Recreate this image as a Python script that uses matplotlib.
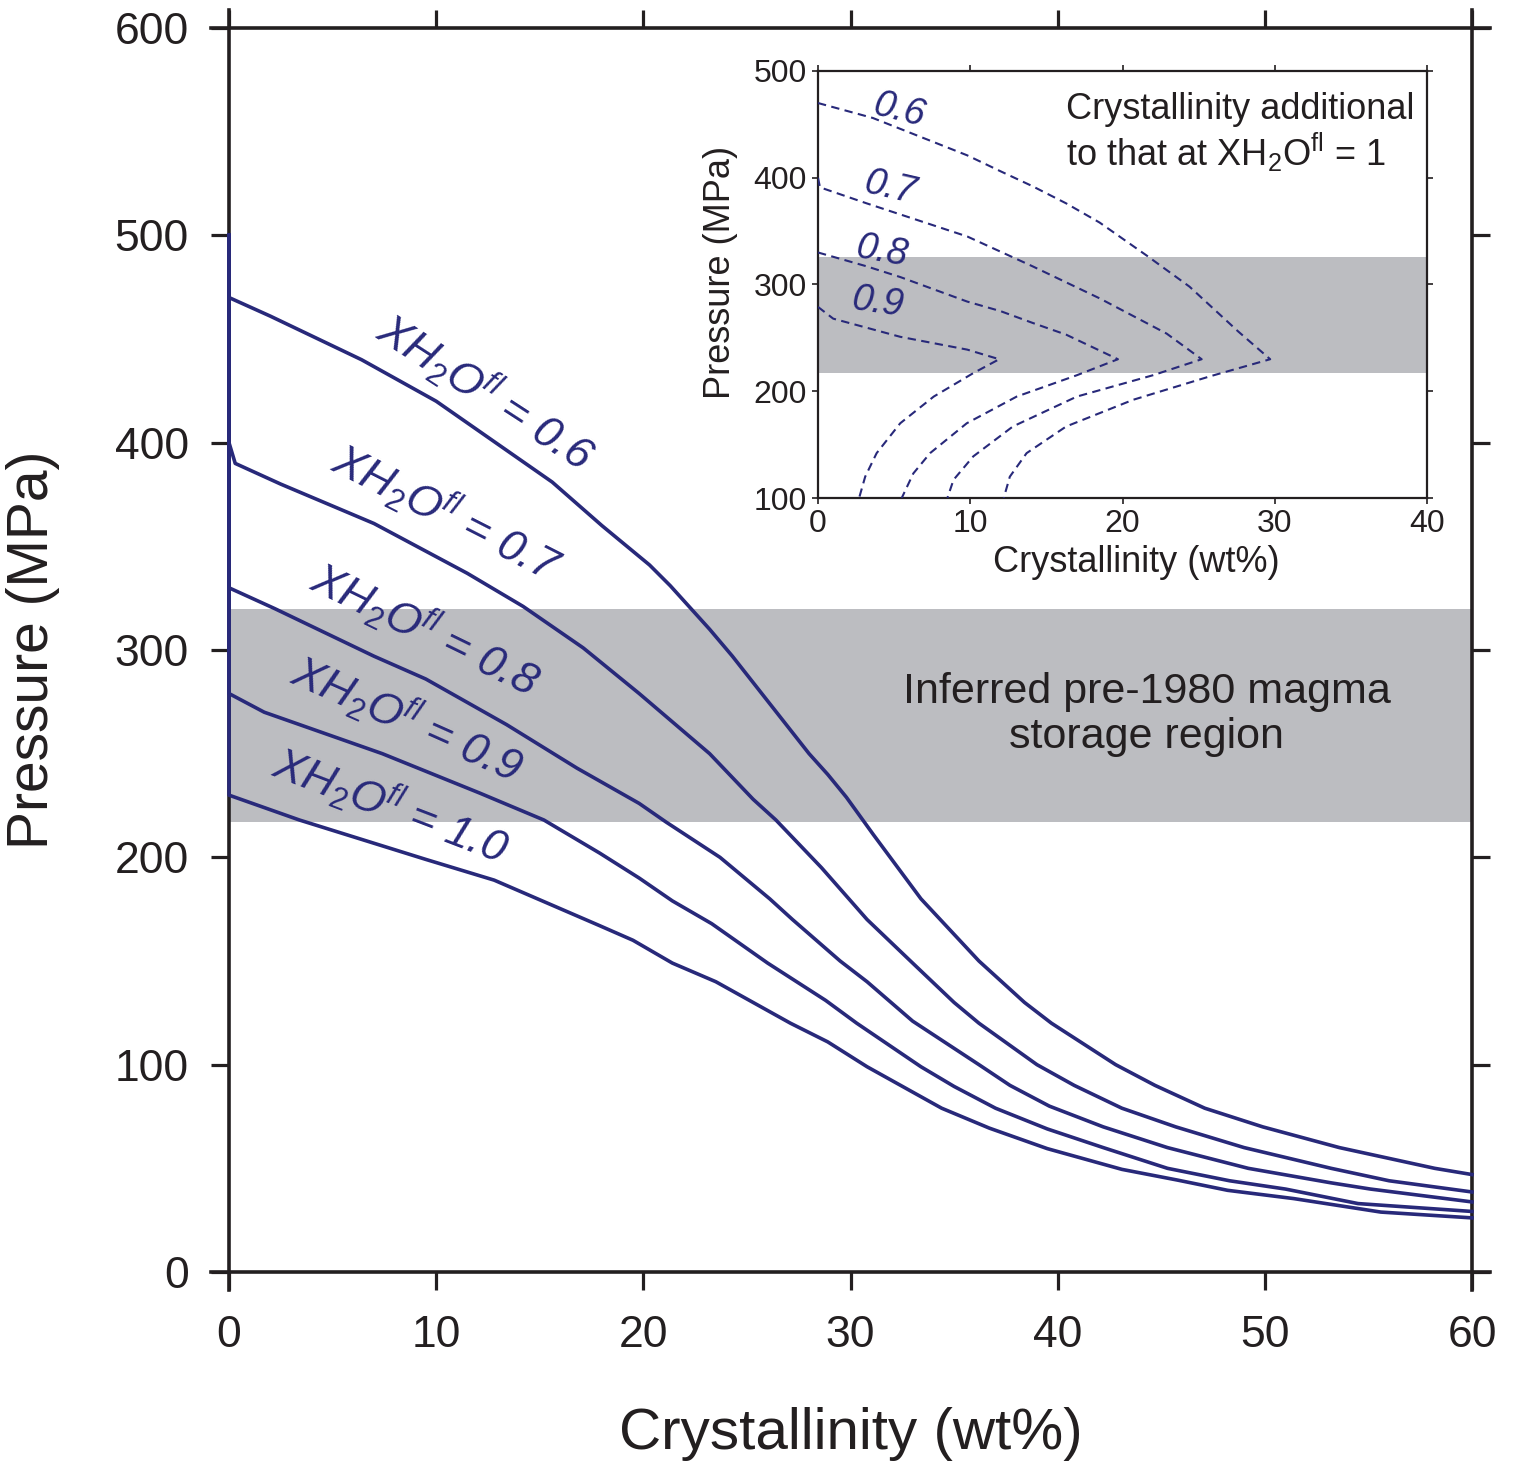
import matplotlib.pyplot as plt
import numpy as np

plt.rcParams['font.family'] = ['Liberation Sans', 'DejaVu Sans']
plt.rcParams['mathtext.fontset'] = 'custom'
plt.rcParams['mathtext.rm'] = 'Liberation Sans'
plt.rcParams['mathtext.it'] = 'Liberation Sans:italic'
plt.rcParams['mathtext.bf'] = 'Liberation Sans:bold'

navy = '#28297a'
ink = '#231f20'
band_grey = '#bcbdc1'

# main panel: pressure (MPa) vs crystallinity (wt%) for each fluid XH2O
levels = ['0.6', '0.7', '0.8', '0.9', '1.0']

cryst_06 = [0, 0, 2.0, 6.4, 10.0, 15.6, 18.0, 20.3, 21.3, 23.2, 24.3, 28.0, 28.9, 29.8, 31.1,
            33.4, 36.2, 38.4, 39.7, 42.8, 44.7, 47.1, 49.9, 53.6, 58.2, 60]
press_06 = [500, 470, 461, 440, 420, 381, 360, 341, 331, 310, 297, 250, 240, 229, 211,
            180, 150, 130, 120, 100, 90, 79, 70, 60, 50, 47]

cryst_07 = [0, 0, 0.3, 2.5, 7.0, 11.5, 14.2, 17.1, 19.8, 23.2, 25.3, 26.4, 28.6, 30.8, 33.0,
            35.0, 36.2, 39.0, 40.8, 43.1, 45.7, 49.0, 53.2, 56.0, 60]
press_07 = [500, 400, 390, 380, 361, 337, 321, 301, 279, 250, 228, 218, 195, 170, 149,
            130, 120, 100, 90, 79, 70, 60, 50, 44, 38.6]

cryst_08 = [0, 0, 2.2, 7.0, 9.5, 13.4, 16.8, 19.8, 21.1, 23.7, 26.1, 27.2, 29.5, 30.8, 33.0,
            36.2, 37.7, 39.6, 42.2, 45.3, 49.2, 53.2, 55.1, 60]
press_08 = [500, 330, 320, 297, 286, 264, 243, 226, 217, 200, 180, 170, 150, 140, 121,
            100, 90, 80, 70, 60, 50, 43, 40, 33.8]

cryst_09 = [0, 0, 1.7, 7.4, 12.1, 15.2, 17.9, 19.8, 21.4, 23.3, 26.0, 28.8, 30.3, 33.4, 35.0,
            37.0, 39.5, 42.2, 45.3, 48.3, 51.0, 54.5, 60]
press_09 = [500, 279, 270, 250, 231, 218, 202, 190, 179, 168, 149, 131, 120, 99, 89.5,
            79, 69, 60, 50, 44, 40, 33, 29.2]

cryst_10 = [0, 0, 3.4, 9.5, 12.8, 17.9, 19.5, 21.4, 23.5, 27.1, 28.9, 30.8, 34.4, 36.7, 39.5,
            43.1, 45.8, 48.2, 51.4, 55.6, 60]
press_10 = [500, 230, 218, 199, 189, 167, 160, 149, 140, 120, 111, 99, 79, 69.4, 59.5,
            49.5, 44.3, 39.4, 35.4, 28.9, 26.1]

storage_band = (217, 320)

# inset: crystallinity in excess of the XH2O = 1 curve
inset_levels = ['0.6', '0.7', '0.8', '0.9']

extra_06 = [0, 3.6, 9.8, 12.0, 14.1, 16.3, 18.5, 21.6, 24.4, 27.6, 29.7,
            25.75, 20.7, 16.3, 13.7, 12.6, 12.2]
ipress_06 = [470, 456, 421, 406, 392, 376, 358, 327, 298, 256, 230,
             214, 192, 167, 142, 120, 100]

extra_07 = [0, 0.13, 3.2, 9.8, 14.1, 18.5, 22.9, 25.2,
            22.0, 17.0, 12.8, 10.2, 8.9, 8.5]
ipress_07 = [400, 391, 376, 345, 317, 287, 254, 230,
             215, 195, 167, 139, 117, 100]

extra_08 = [0, 3.2, 5.4, 9.8, 12.0, 14.1, 16.3, 19.7,
            17.0, 13.05, 9.77, 7.36, 6.26, 5.5]
ipress_08 = [330, 317, 307, 284, 275, 264, 253, 230,
             215, 195, 170, 142, 123, 100]

extra_09 = [0, 1.0, 5.4, 9.8, 11.9,
            10.2, 7.6, 5.4, 3.85, 3.1, 2.7]
ipress_09 = [279, 268, 251, 239, 230,
             217, 195, 170, 142, 120, 100]

inset_band = (217, 326)

W, H = 1515, 1464
fig = plt.figure(figsize=(W / 100, H / 100), dpi=100)

# ---------------- main axes ----------------
ax = fig.add_axes([229 / W, 1 - 1272 / H, (1472 - 229) / W, (1272 - 28) / H])
ax.set_xlim(0, 60)
ax.set_ylim(0, 600)
ax.axhspan(*storage_band, color=band_grey, lw=0, zorder=0)

curves = [(cryst_06, press_06), (cryst_07, press_07), (cryst_08, press_08),
          (cryst_09, press_09), (cryst_10, press_10)]
for c, p in curves:
    ax.plot(c, p, color=navy, lw=2.6, clip_on=False, zorder=4)

label_spots = [(12.4, 424.5, -33), (10.5, 366.5, -27), (9.5, 310, -26),
               (8.6, 267, -24), (7.8, 225, -21)]
for lev, (lx, ly, rot) in zip(levels, label_spots):
    ax.text(lx, ly, r'XH$_\mathit{2}$O$^\mathit{fl}$ = ' + lev, rotation=rot,
            rotation_mode='anchor', ha='center', va='center', fontsize=32,
            style='italic', color=navy, zorder=5)

ax.text(44.3, 269, 'Inferred pre-1980 magma\nstorage region', ha='center',
        va='center', fontsize=31, color=ink, linespacing=1.15)

ax.set_xticks(np.arange(0, 61, 10))
ax.set_yticks(np.arange(0, 601, 100))
ax.tick_params(direction='out', length=13, width=2.3, colors=ink, labelsize=32,
               top=True, right=True)
ax.tick_params(axis='x', pad=18)
ax.tick_params(axis='y', pad=16)
for side, sp in ax.spines.items():
    sp.set_linewidth(2.6)
    sp.set_color(ink)
ax.spines['bottom'].set_bounds(-0.87, 60.87)
ax.spines['top'].set_bounds(-0.87, 60.87)
ax.spines['left'].set_bounds(-8.7, 608.7)
ax.spines['right'].set_bounds(-8.7, 608.7)

fig.text(851 / W, 1 - 1434 / H, 'Crystallinity (wt%)', ha='center', va='center',
         fontsize=42, color=ink)
fig.text(33 / W, 1 - 650 / H, 'Pressure (MPa)', ha='center', va='center',
         rotation=90, fontsize=41, color=ink)

# ---------------- inset ----------------
axi = fig.add_axes([818 / W, 1 - 498 / H, (1427 - 818) / W, (498 - 71) / H])
axi.set_facecolor('white')
axi.set_xlim(0, 40)
axi.set_ylim(100, 500)
axi.axhspan(*inset_band, color=band_grey, lw=0, zorder=0)

inset_curves = [(extra_06, ipress_06), (extra_07, ipress_07),
                (extra_08, ipress_08), (extra_09, ipress_09)]
for c, p in inset_curves:
    axi.plot(c, p, color=navy, lw=1.5, dashes=(4, 2.6), zorder=3)

inset_spots = [(5.3, 463, -14), (4.7, 390, -13), (4.2, 331, -10), (3.9, 283, -8)]
for lev, (lx, ly, rot) in zip(inset_levels, inset_spots):
    axi.text(lx, ly, lev, rotation=rot, rotation_mode='anchor', ha='center',
             va='center', fontsize=27, style='italic', color=navy)

axi.text(0.407, 0.951, 'Crystallinity additional\n'
         r'to that at XH$_2$O$^\mathrm{fl}$ = 1', transform=axi.transAxes,
         ha='left', va='top', fontsize=26, color=ink, linespacing=1.1)

axi.set_xticks(np.arange(0, 41, 10))
axi.set_yticks(np.arange(100, 501, 100))
axi.tick_params(direction='out', length=4, width=1.2, colors=ink, labelsize=23,
                top=True, right=True, pad=4)
for sp in axi.spines.values():
    sp.set_linewidth(1.6)
    sp.set_color(ink)

fig.text(1136 / W, 1 - 563 / H, 'Crystallinity (wt%)', ha='center', va='center',
         fontsize=26, color=ink)
fig.text(721 / W, 1 - 272 / H, 'Pressure (MPa)', ha='center', va='center',
         rotation=90, fontsize=26, color=ink)

fig.savefig('out.png', dpi=100, facecolor='white')
